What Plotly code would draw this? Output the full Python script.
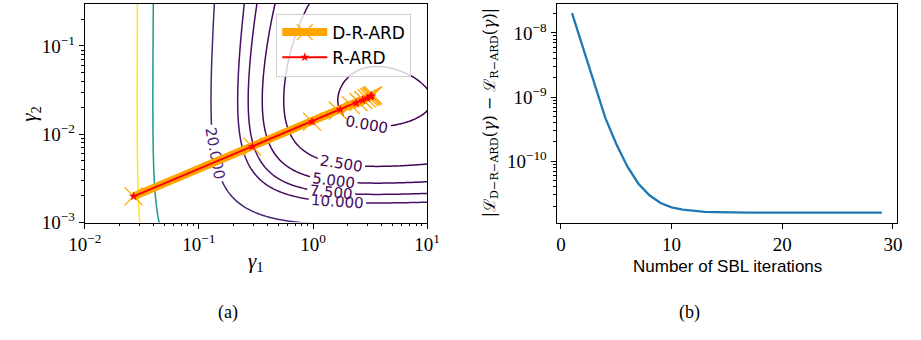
import numpy as np
import plotly.graph_objects as go

# ---------------------------------------------------------------- data
# contour levels of the cost surface and their viridis colours
levels = [0.0, 2.5, 5.0, 7.5, 10.0, 20.0, 100.0, 180.0]
level_colors = ["#440154", "#450559", "#46085c", "#470d60",
                "#471164", "#482475", "#1f978b", "#fde725"]

# hyper-parameter trajectories (gamma_1, gamma_2)
rard_g1 = [0.0268, 0.294, 0.98, 1.73, 2.39, 2.72, 2.99, 3.19, 3.27]
rard_g2 = [0.00198, 0.00724, 0.0139, 0.0191, 0.0226, 0.0243, 0.0257, 0.0268, 0.0272]
drard_g1 = [0.0268, 0.294, 0.98, 1.65, 2.15, 2.50, 2.75, 2.95, 3.10, 3.20, 3.28, 3.36]
drard_g2 = [0.00198, 0.00724, 0.0139, 0.0186, 0.0214, 0.0232, 0.0245, 0.0255, 0.0262, 0.0268, 0.0272, 0.0277]

# |L_D-R-ARD - L_R-ARD| per SBL iteration
iterations = list(range(1, 30))
cost_gap = [2.03e-8, 5.75e-9, 1.58e-9, 4.79e-10, 1.86e-10, 8.3e-11, 4.47e-11,
            2.95e-11, 2.24e-11, 1.91e-11, 1.76e-11, 1.68e-11, 1.63e-11, 1.61e-11,
            1.59e-11, 1.585e-11, 1.583e-11, 1.582e-11, 1.581e-11, 1.58e-11,
            1.58e-11, 1.58e-11, 1.58e-11, 1.58e-11, 1.58e-11, 1.58e-11,
            1.58e-11, 1.58e-11, 1.58e-11]

# ---------------------------------------------------------------- cost surface
# separable ARD-type cost in log10(gamma) coordinates
u_min, v_min = 0.56, -1.615


def ard_term(d, amp, rate):
    x = rate * d
    return amp * (np.exp(x) - 1.0 - x)


u = np.linspace(-2.03, 1.03, 170)
v = np.linspace(-3.03, -0.49, 150)
uu, vv = np.meshgrid(u, v)
du = u_min - uu
dv = v_min - vv
cost = (ard_term(du, 2.3e-6, 8.2) + ard_term(du, 0.6, 2.5)
        + ard_term(dv, 1.1, 2.2) - 0.3)
cost = np.round(cost, 4)
g1_grid = np.round(10.0 ** u, 6)
g2_grid = np.round(10.0 ** v, 7)

fig = go.Figure()

for lev, col in zip(levels, level_colors):
    fig.add_trace(go.Contour(
        x=g1_grid, y=g2_grid, z=cost,
        autocontour=False,
        contours=dict(start=lev, end=lev, size=1.0, coloring="none",
                      showlabels=True, labelformat=".3f",
                      labelfont=dict(family="DejaVu Sans", size=15, color=col)),
        line=dict(color=col, width=1.5),
        showscale=False, showlegend=False, hoverinfo="skip",
        xaxis="x", yaxis="y",
    ))

fig.add_trace(go.Scatter(
    x=drard_g1, y=drard_g2, mode="lines+markers", name="D-R-ARD",
    line=dict(color="#ffa500", width=8),
    marker=dict(symbol="x-thin", size=18, color="#ffa500",
                line=dict(color="#ffa500", width=1.3)),
    xaxis="x", yaxis="y",
))
fig.add_trace(go.Scatter(
    x=rard_g1, y=rard_g2, mode="lines+markers", name="R-ARD",
    line=dict(color="#ff0000", width=2),
    marker=dict(symbol="star", size=7, color="#ff0000"),
    xaxis="x", yaxis="y",
))

fig.add_trace(go.Scatter(
    x=iterations, y=cost_gap, mode="lines", showlegend=False,
    line=dict(color="#1f77b4", width=2.3),
    xaxis="x2", yaxis="y2",
))

# ---------------------------------------------------------------- axes
W, H = 921, 340
tick_font = dict(family="Liberation Serif", size=19, color="black")


def sup(e):
    return "10<sup>" + ("\u2212" + str(-e) if e < 0 else str(e)) + "</sup>"


def minor_vals(e_lo, e_hi, vmin, vmax):
    return [k * 10.0 ** e for e in range(e_lo, e_hi + 1) for k in range(2, 10)
            if vmin <= k * 10.0 ** e <= vmax]


axis_common = dict(showline=True, mirror=True, linecolor="black", linewidth=1,
                   ticks="outside", ticklen=5, tickwidth=1, tickcolor="black",
                   showgrid=False, zeroline=False, tickfont=tick_font)

fig.update_layout(
    width=W, height=H,
    margin=dict(l=0, r=0, t=0, b=0),
    paper_bgcolor="white", plot_bgcolor="white",
    xaxis=dict(domain=[70 / W, 424 / W], type="log", range=[-2, 1],
               tickmode="array", tickvals=[0.01, 0.1, 1, 10],
               ticktext=[sup(e) for e in (-2, -1, 0, 1)],
               minor=dict(ticks="outside", ticklen=2.5, tickcolor="black",
                          tickvals=minor_vals(-2, 0, 0.01, 10)),
               anchor="y", **axis_common),
    yaxis=dict(domain=[1 - 230 / H, 1 - 4 / H], type="log",
               range=[-3, np.log10(0.3)],
               tickmode="array", tickvals=[0.001, 0.01, 0.1],
               ticktext=[sup(e) for e in (-3, -2, -1)],
               minor=dict(ticks="outside", ticklen=2.5, tickcolor="black",
                          tickvals=minor_vals(-3, -1, 0.001, 0.3)),
               anchor="x", **axis_common),
    xaxis2=dict(domain=[557.7 / W, 910 / W], range=[-0.4, 30.4],
                tickmode="array", tickvals=[0, 10, 20, 30],
                anchor="y2", **axis_common),
    yaxis2=dict(domain=[1 - 230 / H, 1 - 4 / H], type="log",
                range=[-10.955, -7.548],
                tickmode="array", tickvals=[1e-10, 1e-9, 1e-8],
                ticktext=[sup(e) for e in (-10, -9, -8)],
                minor=dict(ticks="outside", ticklen=2.5, tickcolor="black",
                           tickvals=minor_vals(-11, -8, 1.1e-11, 2.8e-8)),
                anchor="x2", **axis_common),
    legend=dict(x=268 / W, y=1 - 14 / H, xanchor="left", yanchor="top",
                bgcolor="rgba(255,255,255,0.8)", bordercolor="#d0d0d0",
                borderwidth=1, font=dict(family="DejaVu Sans", size=17,
                                         color="black"),
                itemwidth=45, tracegroupgap=2),
)

label_font = dict(family="Liberation Serif", size=21, color="black")
annotations = [
    dict(x=14 / W, y=1 - 118 / H, text="<i>γ</i><sub>2</sub>", textangle=-90,
         font=label_font),
    dict(x=247 / W, y=1 - 271 / H, text="<i>γ</i><sub>1</sub>", font=label_font),
    dict(x=489 / W, y=1 - 117 / H,
         text="|ℒ<sub>D\u2212R\u2212ARD</sub>(<i>γ</i>) \u2212 "
              "ℒ<sub>R\u2212ARD</sub>(<i>γ</i>)|",
         textangle=-90, font=dict(family="DejaVu Serif", size=16, color="black")),
    dict(x=734 / W, y=1 - 275 / H, text="Number of SBL iterations",
         font=dict(family="Liberation Sans", size=17, color="black")),
    dict(x=218 / W, y=1 - 323 / H, text="(a)",
         font=dict(family="Liberation Serif", size=18, color="black")),
    dict(x=695 / W, y=1 - 323 / H, text="(b)",
         font=dict(family="Liberation Serif", size=18, color="black")),
]
for a in annotations:
    a.update(xref="paper", yref="paper", showarrow=False,
             xanchor="center", yanchor="middle")
fig.update_layout(annotations=annotations)

fig.write_html("out.html")
